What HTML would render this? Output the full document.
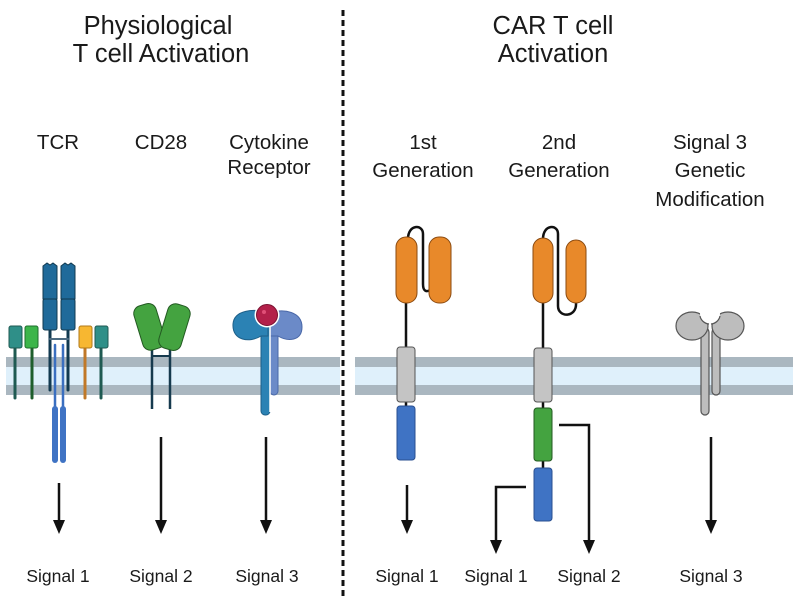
<!DOCTYPE html>
<html><head><meta charset="utf-8"><style>
html,body{margin:0;padding:0;background:#fff;}
svg{display:block;}
text{font-family:"Liberation Sans",sans-serif;fill:#1a1a1a;}
</style></head><body>
<svg width="800" height="600" viewBox="0 0 800 600" xmlns="http://www.w3.org/2000/svg">
<defs>
<mask id="notch">
<rect x="0" y="0" width="800" height="600" fill="#fff"/>
<circle cx="710" cy="314" r="10" fill="#000"/>
</mask>
</defs>
<!-- membranes -->
<g>
<rect x="6" y="357" width="334" height="38" fill="#dff0fb"/>
<rect x="6" y="357" width="334" height="10" fill="#aab7c0"/>
<rect x="6" y="385" width="334" height="10" fill="#aab7c0"/>
<rect x="355" y="357" width="438" height="38" fill="#dff0fb"/>
<rect x="355" y="357" width="438" height="10" fill="#aab7c0"/>
<rect x="355" y="385" width="438" height="10" fill="#aab7c0"/>
</g>
<line x1="343" y1="10" x2="343" y2="598" stroke="#111" stroke-width="3" stroke-dasharray="6,4"/>

<g font-size="25.5" text-anchor="middle">
<text x="158" y="34">Physiological</text>
<text x="161" y="62">T cell Activation</text>
<text x="553" y="34">CAR T cell</text>
<text x="553" y="62">Activation</text>
</g>

<g font-size="20.5" text-anchor="middle">
<text x="58" y="149">TCR</text>
<text x="161" y="149">CD28</text>
<text x="269" y="149">Cytokine</text>
<text x="269" y="174">Receptor</text>
<text x="423" y="149">1st</text>
<text x="423" y="177">Generation</text>
<text x="559" y="149">2nd</text>
<text x="559" y="177">Generation</text>
<text x="710" y="149">Signal 3</text>
<text x="710" y="177">Genetic</text>
<text x="710" y="206">Modification</text>
</g>

<!-- TCR -->
<g stroke-linecap="round">
<line x1="15" y1="345" x2="15" y2="398" stroke="#1f5a52" stroke-width="3"/>
<rect x="9" y="326" width="13" height="22" rx="2" fill="#2f8f88" stroke="#1f5a52"/>
<line x1="32" y1="345" x2="32" y2="398" stroke="#1e5e2c" stroke-width="3"/>
<rect x="25" y="326" width="13" height="22" rx="2" fill="#3cb54a" stroke="#1e6e2c"/>
<line x1="85" y1="345" x2="85" y2="398" stroke="#c07828" stroke-width="3"/>
<rect x="79" y="326" width="13" height="22" rx="2" fill="#f7b731" stroke="#b07a1a"/>
<line x1="101" y1="345" x2="101" y2="398" stroke="#1f5a52" stroke-width="3"/>
<rect x="95" y="326" width="13" height="22" rx="2" fill="#2f8f88" stroke="#1f5a52"/>
<line x1="50" y1="328" x2="50" y2="390" stroke="#123a50" stroke-width="3"/>
<line x1="68" y1="328" x2="68" y2="390" stroke="#123a50" stroke-width="3"/>
<line x1="50" y1="339" x2="68" y2="339" stroke="#4c6a80" stroke-width="2"/>
<line x1="55" y1="345" x2="55" y2="410" stroke="#3a6fc0" stroke-width="2.5"/>
<line x1="63" y1="345" x2="63" y2="410" stroke="#3a6fc0" stroke-width="2.5"/>
<rect x="52" y="406" width="6" height="57" rx="3" fill="#3f73c4"/>
<rect x="60" y="406" width="6" height="57" rx="3" fill="#3f73c4"/>
<path d="M43,266 L47,263 L50,265 L53,263 L57,266 L57,299 L43,299 Z" fill="#1f6a9a" stroke="#123a50" stroke-width="1"/>
<rect x="43" y="299" width="14" height="31" rx="2" fill="#1f6a9a" stroke="#123a50" stroke-width="1"/>
<path d="M61,266 L65,263 L68,265 L71,263 L75,266 L75,299 L61,299 Z" fill="#1f6a9a" stroke="#123a50" stroke-width="1"/>
<rect x="61" y="299" width="14" height="31" rx="2" fill="#1f6a9a" stroke="#123a50" stroke-width="1"/>
</g>

<!-- CD28 -->
<g>
<line x1="152" y1="345" x2="152" y2="409" stroke="#163a4e" stroke-width="2.5"/>
<line x1="170" y1="345" x2="170" y2="409" stroke="#163a4e" stroke-width="2.5"/>
<line x1="152" y1="356" x2="170" y2="356" stroke="#163a4e" stroke-width="2"/>
<rect x="138" y="304" width="23" height="46" rx="8" fill="#44a340" stroke="#235a22" transform="rotate(-17 149 327)"/>
<rect x="163" y="304" width="23" height="46" rx="8" fill="#44a340" stroke="#235a22" transform="rotate(17 174 327)"/>
</g>

<!-- Cytokine receptor -->
<g>
<rect x="270" y="322" width="8" height="73" rx="4" fill="#6b8ac8" stroke="#4a68a8"/>
<path d="M270,313 C284,308 302,312 302,327 C302,341 288,342 278,336 L270,336 Z" fill="#6b8ac8" stroke="#4a68a8"/>
<rect x="261" y="322" width="9" height="93" rx="4" fill="#2b82b4" stroke="#1d5f88"/>
<path d="M268,313 C254,308 234,310 233,324 C232,341 250,343 261,336 L268,336 Z" fill="#2b82b4" stroke="#1d5f88"/>
<line x1="270" y1="325" x2="270" y2="412" stroke="#fff" stroke-width="1.5"/>
<circle cx="267" cy="315" r="12.5" fill="#fff"/>
<circle cx="267" cy="315" r="10.5" fill="#b3204a" stroke="#7a1030"/>
<circle cx="264" cy="312" r="2" fill="#e05077"/>
</g>

<!-- 1st gen CAR -->
<g>
<path d="M408,239 C408,224 423,224 423,234 L423,284 C423,292 427,292 430,290" fill="none" stroke="#111" stroke-width="2.5"/>
<line x1="406" y1="300" x2="406" y2="410" stroke="#111" stroke-width="2.5"/>
<rect x="396" y="237" width="21" height="66" rx="10" fill="#e8892a" stroke="#8a4a10"/>
<rect x="429" y="237" width="22" height="66" rx="10" fill="#e8892a" stroke="#8a4a10"/>
<rect x="397" y="347" width="18" height="55" rx="3" fill="#c4c4c4" stroke="#555"/>
<rect x="397" y="406" width="18" height="54" rx="3" fill="#3f73c4" stroke="#2a4f90"/>
</g>

<!-- 2nd gen CAR -->
<g>
<path d="M543,239 C543,224 558,224 558,234 L558,306 C558,318 577,318 576,303" fill="none" stroke="#111" stroke-width="2.5"/>
<line x1="543" y1="300" x2="543" y2="470" stroke="#111" stroke-width="2.5"/>
<rect x="533" y="238" width="20" height="65" rx="10" fill="#e8892a" stroke="#8a4a10"/>
<rect x="566" y="240" width="20" height="63" rx="10" fill="#e8892a" stroke="#8a4a10"/>
<rect x="534" y="348" width="18" height="54" rx="3" fill="#c4c4c4" stroke="#555"/>
<rect x="534" y="408" width="18" height="53" rx="3" fill="#44a340" stroke="#235a22"/>
<rect x="534" y="468" width="18" height="53" rx="3" fill="#3f73c4" stroke="#2a4f90"/>
</g>

<!-- Signal 3 genetic -->
<g fill="#bdbdbd" stroke="#555" stroke-width="1.2">
<rect x="712" y="328" width="8" height="67" rx="4"/>
<rect x="701" y="328" width="8" height="87" rx="4"/>
<g mask="url(#notch)">
<ellipse cx="692" cy="326" rx="16" ry="14"/>
<ellipse cx="728" cy="326" rx="16" ry="14"/>
</g>
<path d="M700,316 A10,10 0 0 0 709,324" fill="none"/>
<path d="M720,316 A10,10 0 0 1 711,324" fill="none"/>
</g>

<!-- arrows -->
<g stroke="#111" stroke-width="2.5" fill="none">
<line x1="59" y1="483" x2="59" y2="522"/>
<line x1="161" y1="437" x2="161" y2="522"/>
<line x1="266" y1="437" x2="266" y2="522"/>
<line x1="407" y1="485" x2="407" y2="522"/>
<polyline points="526,487 496,487 496,542"/>
<polyline points="559,425 589,425 589,542"/>
<line x1="711" y1="437" x2="711" y2="522"/>
</g>
<g fill="#111">
<polygon points="53,520 65,520 59,534"/>
<polygon points="155,520 167,520 161,534"/>
<polygon points="260,520 272,520 266,534"/>
<polygon points="401,520 413,520 407,534"/>
<polygon points="490,540 502,540 496,554"/>
<polygon points="583,540 595,540 589,554"/>
<polygon points="705,520 717,520 711,534"/>
</g>

<g font-size="17.5" text-anchor="middle">
<text x="58" y="582">Signal 1</text>
<text x="161" y="582">Signal 2</text>
<text x="267" y="582">Signal 3</text>
<text x="407" y="582">Signal 1</text>
<text x="496" y="582">Signal 1</text>
<text x="589" y="582">Signal 2</text>
<text x="711" y="582">Signal 3</text>
</g>
</svg>
</body></html>
